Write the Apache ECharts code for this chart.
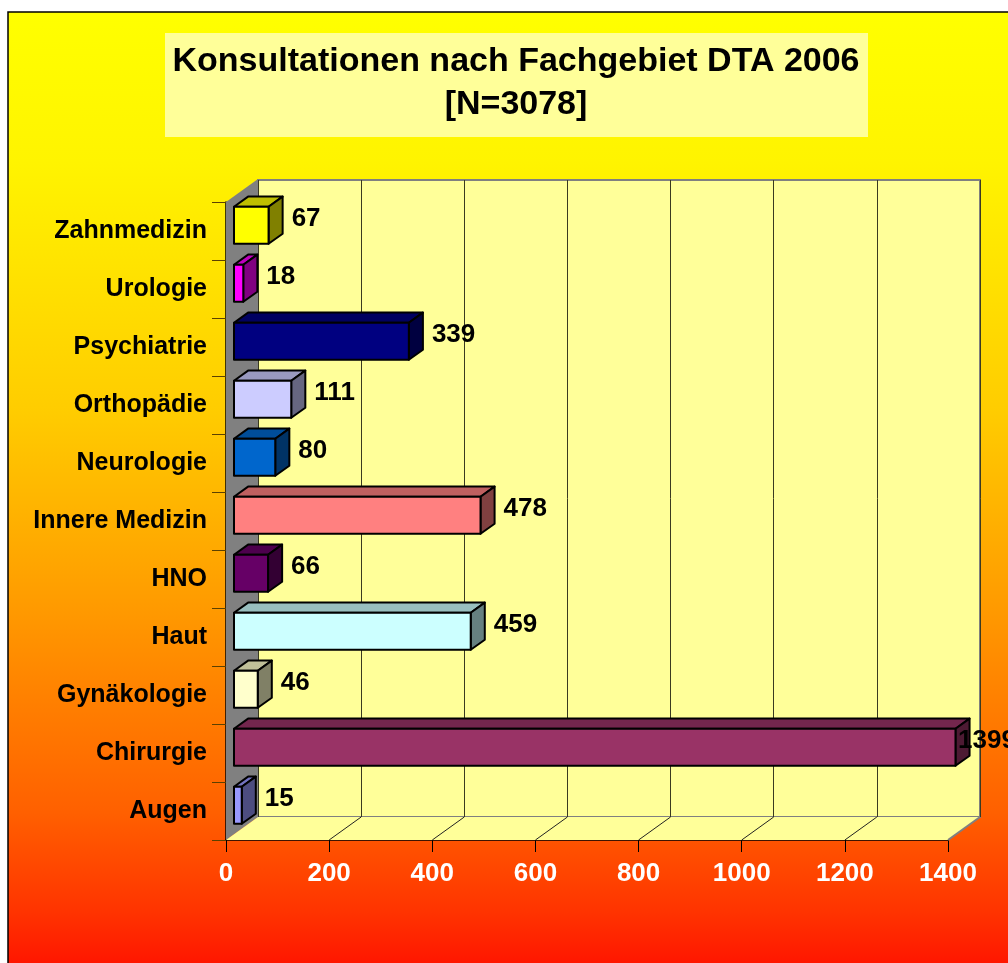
<!DOCTYPE html>
<html>
<head>
<meta charset="utf-8">
<script src="https://cdn.jsdelivr.net/npm/echarts@6/dist/echarts.min.js"></script>
<style>
  html, body { margin: 0; padding: 0; background: #fff; }
  #chart { width: 1008px; height: 963px; }
</style>
</head>
<body>
<div id="chart"></div>
<script>
// Fachgebiete, von unten nach oben
const categories = ['Augen', 'Chirurgie', 'Gynäkologie', 'Haut', 'HNO', 'Innere Medizin',
  'Neurologie', 'Orthopädie', 'Psychiatrie', 'Urologie', 'Zahnmedizin']
const consultations = [15, 1399, 46, 459, 66, 478, 80, 111, 339, 18, 67]
const barColors = ['#9999FF', '#993366', '#FFFFCC', '#CCFFFF', '#660066', '#FF8080',
  '#0066CC', '#CCCCFF', '#000080', '#FF00FF', '#FFFF00']
const xTicks = [0, 200, 400, 600, 800, 1000, 1200, 1400]

const FONT = '"Liberation Sans", Arial, sans-serif'
// 3D Tiefe (volle Tiefe der Wand / des Bodens)
const DX = 32
const DY = -23
// Balken liegen zwischen 25% und 69% der Tiefe
const B0 = 0.25
const B1 = 0.69

const chart = echarts.init(document.getElementById('chart'))

// Farbe abdunkeln (f = Faktor 0..1)
function shade (hex, f) {
  const n = parseInt(hex.slice(1), 16)
  const r = Math.round(((n >> 16) & 255) * f)
  const g = Math.round(((n >> 8) & 255) * f)
  const b = Math.round((n & 255) * f)
  return 'rgb(' + r + ',' + g + ',' + b + ')'
}

// Boden + linke Wand
function renderFrame (params, api) {
  const n = categories.length
  const p0 = api.coord([0, 0])
  const pMax = api.coord([xTicks[xTicks.length - 1], 0])
  const band = api.size([0, 1])[1]
  const yBot = p0[1] + band / 2
  const yTop = api.coord([0, n - 1])[1] - band / 2
  const x0 = p0[0]
  const x1 = pMax[0]
  const children = [
    {
      type: 'polygon',
      shape: { points: [[x0, yTop], [x0, yBot], [x0 + DX, yBot + DY], [x0 + DX, yTop + DY]] },
      style: { fill: '#808080', stroke: null }
    },
    {
      type: 'polygon',
      shape: { points: [[x0, yBot], [x1, yBot], [x1 + DX, yBot + DY], [x0 + DX, yBot + DY]] },
      style: { fill: '#FFFF99', stroke: null }
    },
    {
      type: 'line',
      shape: { x1: x1, y1: yBot, x2: x1 + DX, y2: yBot + DY },
      style: { stroke: '#808080', lineWidth: 2 }
    }
  ]
  xTicks.slice(1, -1).forEach((v) => {
    const x = api.coord([v, 0])[0]
    children.push({
      type: 'line',
      shape: { x1: x, y1: yBot, x2: x + DX, y2: yBot + DY },
      style: { stroke: '#222', lineWidth: 1 }
    })
  })
  return { type: 'group', children: children }
}

// 3D Balken
function renderBar (params, api) {
  const i = api.value(1)
  const val = api.value(0)
  const c = barColors[params.dataIndex]
  const p0 = api.coord([0, i])
  const p1 = api.coord([val, i])
  const band = api.size([0, 1])[1]
  const h = band * 0.32
  const ox = DX * B0
  const oy = DY * B0
  const dx = DX * (B1 - B0)
  const dy = DY * (B1 - B0)
  const xa = p0[0] + ox
  const xb = p1[0] + ox
  const ya = p0[1] + oy - h
  const yb = p0[1] + oy + h
  const edge = { stroke: '#000', lineWidth: 2, lineJoin: 'round' }
  const labelX = Math.min(xb + dx + 9, api.coord([xTicks[xTicks.length - 1], i])[0] + 10)
  return {
    type: 'group',
    children: [
      {
        type: 'polygon',
        shape: { points: [[xa, ya], [xb, ya], [xb + dx, ya + dy], [xa + dx, ya + dy]] },
        style: Object.assign({ fill: shade(c, 0.75) }, edge)
      },
      {
        type: 'polygon',
        shape: { points: [[xb, ya], [xb, yb], [xb + dx, yb + dy], [xb + dx, ya + dy]] },
        style: Object.assign({ fill: shade(c, 0.5) }, edge)
      },
      {
        type: 'rect',
        shape: { x: xa, y: ya, width: xb - xa, height: yb - ya },
        style: Object.assign({ fill: c }, edge)
      },
      {
        type: 'text',
        x: labelX,
        y: p0[1] - 12,
        style: {
          text: String(val),
          fill: '#000',
          font: 'bold 26px ' + FONT,
          verticalAlign: 'middle',
          align: 'left'
        }
      }
    ]
  }
}

chart.setOption({
  backgroundColor: '#fff',
  animation: false,
  graphic: [
    {
      type: 'rect',
      z: -10,
      shape: { x: 8, y: 12, width: 1100, height: 1000 },
      style: {
        stroke: '#000',
        lineWidth: 1.5,
        fill: {
          type: 'linear',
          x: 0,
          y: 0,
          x2: 0,
          y2: 1,
          colorStops: [
            { offset: 0, color: '#FFFF00' },
            { offset: 0.15, color: '#FFF400' },
            { offset: 0.4, color: '#FFCC00' },
            { offset: 0.6, color: '#FF9900' },
            { offset: 0.8, color: '#FF6000' },
            { offset: 0.9, color: '#FF3300' },
            { offset: 0.96, color: '#FF1100' },
            { offset: 1, color: '#FF1100' }
          ]
        }
      }
    },
    {
      type: 'rect',
      z: -9,
      shape: { x: 165, y: 33, width: 703, height: 104 },
      style: { fill: '#FFFF99' }
    },
    {
      type: 'text',
      z: -8,
      x: 516,
      y: 83,
      style: {
        text: 'Konsultationen nach Fachgebiet DTA 2006\n[N=3078]',
        font: 'bold 34px ' + FONT,
        lineHeight: 43,
        fill: '#000',
        align: 'center',
        verticalAlign: 'middle'
      }
    }
  ],
  grid: [
    // Vorderebene
    { left: 226, right: 60, top: 202, bottom: 123 },
    // Rückwand
    {
      left: 258,
      right: 28,
      top: 180,
      bottom: 146,
      show: true,
      backgroundColor: '#FFFF99',
      borderColor: '#808080',
      borderWidth: 2
    }
  ],
  xAxis: [
    {
      type: 'value',
      gridIndex: 0,
      min: 0,
      max: 1400,
      interval: 200,
      axisLine: { show: true, lineStyle: { color: '#000', width: 1.5 } },
      axisTick: { show: true, inside: false, length: 12, lineStyle: { color: '#000' } },
      axisLabel: {
        color: '#fff',
        fontWeight: 'bold',
        fontSize: 26,
        fontFamily: FONT,
        margin: 21,
        formatter: (v) => String(v)
      },
      splitLine: { show: false }
    },
    {
      type: 'value',
      gridIndex: 1,
      min: 0,
      max: 1400,
      interval: 200,
      axisLine: { show: false },
      axisTick: { show: false },
      axisLabel: { show: false },
      splitLine: { show: true, lineStyle: { color: '#3a3a20', width: 1 } }
    }
  ],
  yAxis: [
    {
      type: 'category',
      gridIndex: 0,
      data: categories,
      axisLine: { show: true, lineStyle: { color: '#000', width: 1.5 } },
      axisTick: { show: true, inside: false, length: 14, lineStyle: { color: '#5a4000' } },
      axisLabel: { color: '#000', fontWeight: 'bold', fontSize: 25, fontFamily: FONT, margin: 19 },
      splitLine: { show: false }
    },
    {
      type: 'category',
      gridIndex: 1,
      data: categories,
      show: false
    }
  ],
  series: [
    {
      type: 'custom',
      name: 'frame',
      xAxisIndex: 0,
      yAxisIndex: 0,
      z: 1,
      silent: true,
      renderItem: renderFrame,
      data: [[0, 0]]
    },
    {
      type: 'custom',
      name: 'Konsultationen',
      xAxisIndex: 0,
      yAxisIndex: 0,
      z: 3,
      renderItem: renderBar,
      encode: { x: 0, y: 1 },
      data: consultations.map((v, i) => [v, i])
    }
  ]
})
</script>
</body>
</html>
